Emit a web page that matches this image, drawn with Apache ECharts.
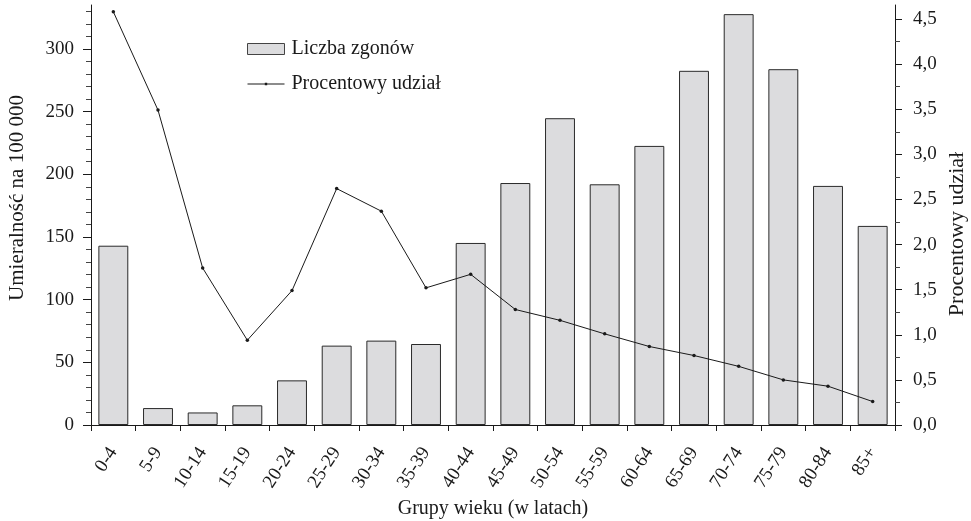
<!DOCTYPE html>
<html>
<head>
<meta charset="utf-8">
<script src="https://cdn.jsdelivr.net/npm/echarts@6/dist/echarts.min.js"></script>
<style>
  html, body { margin: 0; padding: 0; background: #fff; }
  #chart { width: 971px; height: 521px; }
</style>
</head>
<body>
<div id="chart"></div>
<script>
// Age groups (years)
const ageGroups = ['0-4', '5-9', '10-14', '15-19', '20-24', '25-29', '30-34', '35-39', '40-44',
  '45-49', '50-54', '55-59', '60-64', '65-69', '70-74', '75-79', '80-84', '85+'];
// Deaths per 100 000 (left axis, bars)
const deathRate = [143, 13.5, 10, 15.7, 35.6, 63.3, 67.3, 64.6, 145.2,
  193, 244.7, 192, 222.6, 282.5, 327.7, 283.8, 190.7, 158.8];
// Percentage share (right axis, line)
const sharePct = [4.58, 3.49, 1.74, 0.94, 1.49, 2.62, 2.37, 1.52, 1.67,
  1.28, 1.16, 1.01, 0.87, 0.77, 0.65, 0.50, 0.43, 0.26];
// Axis tick values
const rateTicks = [0, 50, 100, 150, 200, 250, 300];
const rateMinorTicks = [10, 20, 30, 40, 60, 70, 80, 90, 110, 120, 130, 140, 160, 170, 180, 190,
  210, 220, 230, 240, 260, 270, 280, 290, 310, 320, 330];
const shareTicks = [0, 0.5, 1, 1.5, 2, 2.5, 3, 3.5, 4, 4.5];
const shareMinorTicks = [0.25, 0.75, 1.25, 1.75, 2.25, 2.75, 3.25, 3.75, 4.25];

const FONT = "'Liberation Serif', 'Times New Roman', serif";
const INK = '#1a1a1a';

const chart = echarts.init(document.getElementById('chart'), null, { renderer: 'canvas' });

const axisLineStyle = { show: true, lineStyle: { color: INK, width: 1 } };

chart.setOption({
  animation: false,
  backgroundColor: '#fff',
  textStyle: { fontFamily: FONT, color: INK },
  grid: { left: 91, right: 76, top: 5, bottom: 96, containLabel: false, outerBoundsMode: 'none' },
  legend: {
    orient: 'vertical',
    left: 247,
    top: 39,
    padding: 0,
    itemWidth: 37,
    itemHeight: 11,
    itemGap: 15,
    textStyle: { fontFamily: FONT, fontSize: 20, color: INK, padding: [0, 0, 0, 2] },
    data: [
      { name: 'Liczba zgonów', icon: 'rect', itemStyle: { borderWidth: 1, borderColor: '#444' } },
      { name: 'Procentowy udział', icon: 'path://M0,4.6 L37,4.6 L37,5.4 L0,5.4 Z M17.3,3.8 L19.7,3.8 L19.7,6.2 L17.3,6.2 Z' }
    ]
  },
  xAxis: {
    type: 'category',
    data: ageGroups,
    boundaryGap: true,
    axisLine: axisLineStyle,
    axisTick: { show: true, length: 6, lineStyle: { color: INK } },
    axisLabel: { rotate: 57, margin: 24, fontFamily: FONT, fontSize: 19, color: INK, interval: 0 },
    name: 'Grupy wieku (w latach)',
    nameLocation: 'middle',
    nameGap: 71,
    nameTextStyle: { fontFamily: FONT, fontSize: 20, color: INK }
  },
  yAxis: [
    {
      type: 'value', position: 'left', min: 0, max: 335,
      splitLine: { show: false },
      axisLine: axisLineStyle,
      axisTick: { show: true, length: 8, lineStyle: { color: INK }, customValues: rateTicks },
      axisLabel: { margin: 17, fontFamily: FONT, fontSize: 19, color: INK, customValues: rateTicks }
    },
    {
      type: 'value', position: 'right', min: 0, max: 4.655,
      splitLine: { show: false },
      axisLine: axisLineStyle,
      axisTick: { show: true, length: 7, lineStyle: { color: INK }, customValues: shareTicks },
      axisLabel: {
        margin: 18, fontFamily: FONT, fontSize: 19, color: INK, customValues: shareTicks,
        formatter: v => v.toFixed(1).replace('.', ',')
      }
    },
    {
      type: 'value', position: 'left', min: 0, max: 335,
      splitLine: { show: false }, axisLine: { show: false },
      axisTick: { show: true, length: 5, lineStyle: { color: '#444' }, customValues: rateMinorTicks },
      axisLabel: { show: false }
    },
    {
      type: 'value', position: 'right', min: 0, max: 4.655,
      splitLine: { show: false }, axisLine: { show: false },
      axisTick: { show: true, length: 5, lineStyle: { color: '#444' }, customValues: shareMinorTicks },
      axisLabel: { show: false }
    }
  ],
  graphic: [
    {
      type: 'text', x: 17, y: 198, rotation: Math.PI / 2,
      style: { text: 'Umieralność na 100 000', font: '21px ' + FONT, fill: INK, align: 'center', verticalAlign: 'middle' }
    },
    {
      type: 'text', x: 957, y: 234, rotation: Math.PI / 2,
      style: { text: 'Procentowy udział', font: '22px ' + FONT, fill: INK, align: 'center', verticalAlign: 'middle' }
    }
  ],
  series: [
    {
      name: 'Liczba zgonów',
      type: 'bar',
      yAxisIndex: 0,
      data: deathRate,
      barCategoryGap: '33%',
      itemStyle: { color: '#dcdcde', borderColor: '#2a2a2a', borderWidth: 1 }
    },
    {
      name: 'Procentowy udział',
      type: 'line',
      yAxisIndex: 1,
      data: sharePct,
      symbol: 'circle',
      symbolSize: 3.5,
      itemStyle: { color: '#1a1a1a' },
      lineStyle: { color: '#1a1a1a', width: 1 }
    }
  ]
});
</script>
</body>
</html>
